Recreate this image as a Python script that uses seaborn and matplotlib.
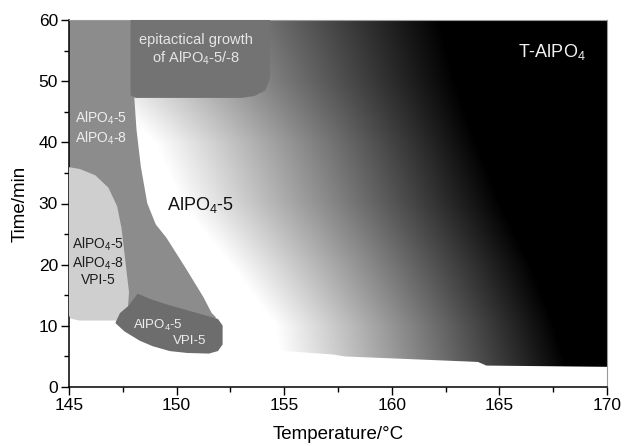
import matplotlib
matplotlib.use("Agg")
import matplotlib.pyplot as plt
import numpy as np
import seaborn as sns

# phase regions (temperature in degC, time in min)
mixed58_temp = [145.0, 148.0, 148.0, 148.1, 148.3, 148.6, 149.0, 149.5, 150.4, 151.2, 151.6, 151.8,
                149.5, 148.2, 147.6, 145.0]
mixed58_time = [60.0, 60.0, 47.0, 42.0, 36.0, 30.0, 26.5, 24.3, 19.3, 14.7, 12.0, 11.3,
                12.5, 14.0, 12.5, 12.5]

vpi_mix_temp = [145.0, 145.5, 146.2, 146.8, 147.2, 147.4, 147.6, 147.75, 147.7, 147.5, 147.2, 145.5, 145.1, 145.0]
vpi_mix_time = [35.8, 35.5, 34.5, 32.5, 29.5, 26.0, 20.0, 15.5, 13.0, 11.3, 11.0, 11.0, 11.3, 12.0]

vpi5_temp = [147.2, 147.4, 147.8, 148.2, 148.8, 149.5, 150.5, 151.4, 151.9, 152.1, 152.1, 151.9,
             151.5, 150.5, 149.7, 148.9, 148.3, 147.6]
vpi5_time = [10.5, 12.0, 13.2, 15.1, 14.2, 13.4, 12.4, 11.5, 11.0, 10.0, 7.0, 6.0,
             5.6, 5.7, 6.0, 6.8, 7.7, 9.2]

epi_temp = [147.9, 154.3, 154.3, 154.1, 153.6, 153.0, 148.1, 147.9]
epi_time = [60.0, 60.0, 50.5, 48.6, 47.7, 47.4, 47.4, 47.8]

amorph_temp = [145.0, 170.0, 170.0, 164.4, 164.0, 157.8, 157.3, 155.0, 152.0, 145.0]
amorph_time = [0.0, 0.0, 3.3, 3.5, 4.1, 5.0, 5.3, 5.9, 6.0, 6.0]

# AlPO4-5 -> T-AlPO4 transition: where the shading starts (white) and ends (black)
grad_time = [0, 10, 20, 30, 40, 50, 60]
grad_white = [155.0, 154.6, 152.5, 150.2, 149.0, 146.0, 144.0]
grad_black = [168.5, 167.6, 166.5, 165.1, 164.0, 163.0, 162.3]

sns.set_theme(style="ticks")
plt.rcParams["font.family"] = ["Liberation Sans", "DejaVu Sans"]
plt.rcParams["mathtext.fontset"] = "custom"
plt.rcParams["mathtext.rm"] = "Liberation Sans"

fig = plt.figure(figsize=(6.24, 4.46), dpi=100)
ax = fig.add_axes([69 / 624, 1 - 387 / 446, 538 / 624, 367 / 446])

tt = np.linspace(145, 170, 600)
mm = np.linspace(0, 60, 360)
w = np.interp(mm, grad_time, grad_white)[:, None]
b = np.interp(mm, grad_time, grad_black)[:, None]
shade = 1 - np.clip((tt[None, :] - w) / (b - w), 0, 1)
ax.imshow(shade, extent=[145, 170, 0, 60], origin="lower", aspect="auto",
          cmap="gray", vmin=0, vmax=1, interpolation="bilinear", zorder=0)

ax.fill(amorph_temp, amorph_time, color="white", lw=0, zorder=1)
ax.fill(mixed58_temp, mixed58_time, color="#8c8c8c", ec="#8c8c8c", lw=1.2, zorder=2)
ax.fill(vpi_mix_temp, vpi_mix_time, color="#cfcfcf", ec="#cfcfcf", lw=1.2, zorder=3)
ax.fill(vpi5_temp, vpi5_time, color="#6d6d6d", ec="#6d6d6d", lw=1.2, zorder=4)
ax.fill(epi_temp, epi_time, color="#737373", ec="#737373", lw=1.2, zorder=4)

sub = r"$\mathregular{_4}$"
ax.text(150.9, 55.1, "epitactical growth\nof AlPO" + sub + "-5/-8", ha="center", va="center",
        color="#e6e6e6", fontsize=10.5, linespacing=1.25, zorder=5)
ax.text(146.5, 42.3, "AlPO" + sub + "-5\nAlPO" + sub + "-8", ha="center", va="center",
        color="#eeeeee", fontsize=10, linespacing=1.15, zorder=5)
ax.text(146.35, 20.5, "AlPO" + sub + "-5\nAlPO" + sub + "-8\nVPI-5", ha="center", va="center",
        color="#1e1e1e", fontsize=10, linespacing=1.1, zorder=5)
ax.text(149.15, 10.1, "AlPO" + sub + "-5", ha="center", va="center", color="#eeeeee", fontsize=9.5, zorder=5)
ax.text(150.6, 7.5, "VPI-5", ha="center", va="center", color="#eeeeee", fontsize=9.5, zorder=5)
ax.text(151.1, 29.8, "AlPO" + sub + "-5", ha="center", va="center", color="#111111", fontsize=13, zorder=5)
ax.text(167.45, 54.8, "T-AlPO" + sub, ha="center", va="center", color="#f2f2f2", fontsize=13, zorder=5)

ax.set_xlim(145, 170)
ax.set_ylim(0, 60)
ax.set_xticks([145, 150, 155, 160, 165, 170])
ax.set_yticks([0, 10, 20, 30, 40, 50, 60])
ax.set_xticks(np.arange(147.5, 170, 5), minor=True)
ax.set_yticks(np.arange(5, 60, 10), minor=True)
ax.tick_params(which="major", direction="out", length=6, width=1, colors="black",
               labelsize=12.5, pad=2)
ax.tick_params(which="minor", direction="out", length=3.5, width=1, colors="black")
ax.set_xlabel("Temperature/°C", fontsize=13.5, color="black", labelpad=9)
ax.set_ylabel("Time/min", fontsize=13.5, color="black", labelpad=7)

for side in ["left", "bottom"]:
    ax.spines[side].set_color("black")
    ax.spines[side].set_linewidth(1.1)
for side in ["top", "right"]:
    ax.spines[side].set_color("#9a9a9a")
    ax.spines[side].set_linewidth(0.8)
ax.grid(False)

fig.savefig("out.png", dpi=100)
